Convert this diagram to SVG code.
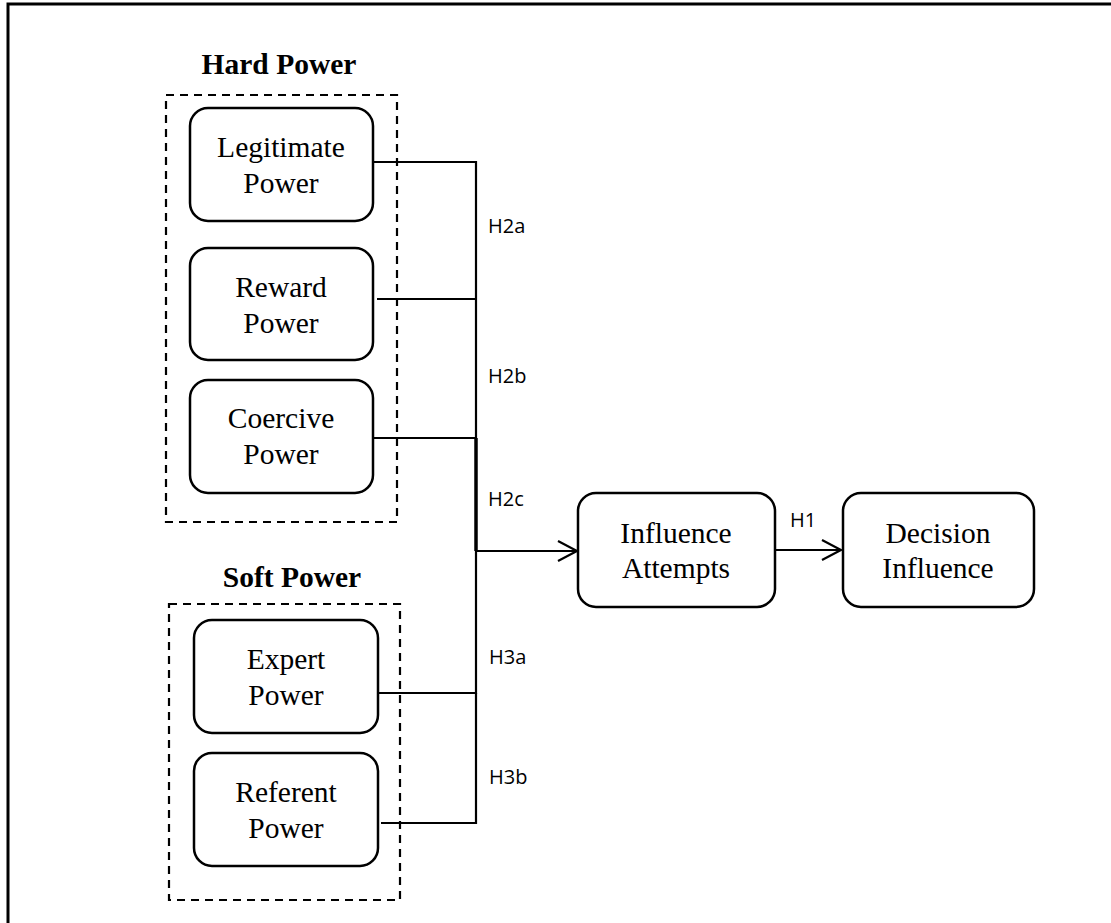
<svg xmlns="http://www.w3.org/2000/svg" width="1111" height="923" viewBox="0 0 1111 923">
<style>
.node{fill:#fff;stroke:#000;stroke-width:2.5}
.grp{fill:none;stroke:#000;stroke-width:2.2;stroke-dasharray:8,6}
.t{font-family:"Liberation Serif",serif;font-size:29.5px;fill:#000;text-anchor:middle}
.tb{font-family:"Liberation Serif",serif;font-size:29.5px;font-weight:bold;fill:#000;text-anchor:middle}
.lb{font-family:"Open Sans",sans-serif;font-size:20px;fill:#000}
.c{fill:none;stroke:#000;stroke-width:2.2}
</style>
<rect width="1111" height="923" fill="#fff"/>
<path d="M8,923 V4 H1111" fill="none" stroke="#000" stroke-width="3"/>

<g id="hard-power">
<text class="tb" x="279" y="74">Hard Power</text>
<rect class="grp" x="166" y="95" width="231" height="427"/>
</g>
<g id="soft-power">
<text class="tb" x="292" y="587">Soft Power</text>
<rect class="grp" x="169" y="604" width="231" height="296"/>
</g>

<g id="connectors">
<path class="c" d="M373,162 H476 V438"/>
<path class="c" d="M377,299 H476"/>
<path class="c" d="M373,438 H476"/>
<path d="M476,438 V551" fill="none" stroke="#000" stroke-width="3.5"/>
<path class="c" d="M374,693 H476 V551"/>
<path class="c" d="M381,823 H476 V693"/>
<path class="c" d="M476,551 H576"/>
<path class="c" d="M558,541 L577,551 L558,561"/>
<path class="c" d="M775,550 H840"/>
<path class="c" d="M822,540 L841,550 L822,560"/>
<text class="lb" x="488" y="233">H2a</text>
<text class="lb" x="488" y="383">H2b</text>
<text class="lb" x="488" y="506">H2c</text>
<text class="lb" x="489" y="664">H3a</text>
<text class="lb" x="489" y="784">H3b</text>
<text class="lb" x="790" y="527">H1</text>
</g>

<g id="legitimate">
<rect class="node" x="190" y="108" width="183" height="113" rx="18"/>
<text class="t" x="281" y="157">Legitimate</text>
<text class="t" x="281" y="193">Power</text>
</g>
<g id="reward">
<rect class="node" x="190" y="248" width="183" height="112" rx="18"/>
<text class="t" x="281" y="297">Reward</text>
<text class="t" x="281" y="333">Power</text>
</g>
<g id="coercive">
<rect class="node" x="190" y="380" width="183" height="113" rx="18"/>
<text class="t" x="281" y="428">Coercive</text>
<text class="t" x="281" y="464">Power</text>
</g>
<g id="expert">
<rect class="node" x="194" y="620" width="184" height="113" rx="18"/>
<text class="t" x="286" y="669">Expert</text>
<text class="t" x="286" y="705">Power</text>
</g>
<g id="referent">
<rect class="node" x="194" y="753" width="184" height="113" rx="18"/>
<text class="t" x="286" y="802">Referent</text>
<text class="t" x="286" y="838">Power</text>
</g>
<g id="influence-attempts">
<rect class="node" x="578" y="493" width="197" height="114" rx="18"/>
<text class="t" x="676" y="543">Influence</text>
<text class="t" x="676" y="578">Attempts</text>
</g>
<g id="decision-influence">
<rect class="node" x="843" y="493" width="191" height="114" rx="18"/>
<text class="t" x="938" y="543">Decision</text>
<text class="t" x="938" y="578">Influence</text>
</g>
</svg>
